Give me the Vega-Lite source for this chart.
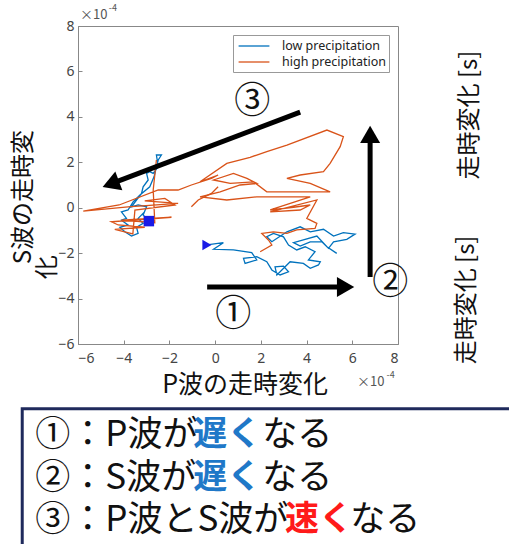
{
  "$schema": "https://vega.github.io/schema/vega-lite/v6.json",
  "width": 320,
  "height": 318,
  "autosize": {"type": "none"},
  "padding": {"left": 78, "top": 26, "right": 111, "bottom": 200},
  "background": "white",
  "config": {
    "view": {"stroke": "#888", "strokeWidth": 1},
    "font": "Noto Sans CJK JP",
    "axis": {"grid": false, "labelFontSize": 14, "labelColor": "#444", "domainColor": "#888", "tickColor": "#888", "labelFont": "Noto Sans", "title": null}
  },
  "datasets": {
    "traj": [
      {"series": "low precipitation", "seg": "b1", "ord": 1, "x": -0.36, "y": -1.64},
      {"series": "low precipitation", "seg": "b1", "ord": 2, "x": 0.36, "y": -1.54},
      {"series": "low precipitation", "seg": "b1", "ord": 3, "x": -0.07, "y": -1.83},
      {"series": "low precipitation", "seg": "b1", "ord": 4, "x": 0.8, "y": -1.86},
      {"series": "low precipitation", "seg": "b1", "ord": 5, "x": 1.6, "y": -1.98},
      {"series": "low precipitation", "seg": "b1", "ord": 6, "x": 1.82, "y": -2.3},
      {"series": "low precipitation", "seg": "b1", "ord": 7, "x": 1.31, "y": -2.45},
      {"series": "low precipitation", "seg": "b1", "ord": 8, "x": 1.24, "y": -2.23},
      {"series": "low precipitation", "seg": "b1", "ord": 9, "x": 1.82, "y": -2.16},
      {"series": "low precipitation", "seg": "b1", "ord": 10, "x": 2.26, "y": -2.38},
      {"series": "low precipitation", "seg": "b1", "ord": 11, "x": 2.48, "y": -2.74},
      {"series": "low precipitation", "seg": "b1", "ord": 12, "x": 2.84, "y": -2.96},
      {"series": "low precipitation", "seg": "b1", "ord": 13, "x": 3.21, "y": -2.82},
      {"series": "low precipitation", "seg": "b1", "ord": 14, "x": 2.99, "y": -2.57},
      {"series": "low precipitation", "seg": "b1", "ord": 15, "x": 2.62, "y": -2.6},
      {"series": "low precipitation", "seg": "b1", "ord": 16, "x": 2.7, "y": -2.96},
      {"series": "low precipitation", "seg": "b1", "ord": 17, "x": 3.28, "y": -2.38},
      {"series": "low precipitation", "seg": "b1", "ord": 18, "x": 3.86, "y": -2.45},
      {"series": "low precipitation", "seg": "b1", "ord": 19, "x": 4.16, "y": -2.67},
      {"series": "low precipitation", "seg": "b1", "ord": 20, "x": 4.52, "y": -2.52},
      {"series": "low precipitation", "seg": "b1", "ord": 21, "x": 4.6, "y": -2.38},
      {"series": "low precipitation", "seg": "b1", "ord": 22, "x": 4.08, "y": -2.3},
      {"series": "low precipitation", "seg": "b1", "ord": 23, "x": 4.37, "y": -1.94},
      {"series": "low precipitation", "seg": "b1", "ord": 24, "x": 3.94, "y": -1.72},
      {"series": "low precipitation", "seg": "b1", "ord": 25, "x": 3.57, "y": -1.86},
      {"series": "low precipitation", "seg": "b1", "ord": 26, "x": 3.21, "y": -1.64},
      {"series": "low precipitation", "seg": "b1", "ord": 27, "x": 2.99, "y": -1.28},
      {"series": "low precipitation", "seg": "b1", "ord": 28, "x": 2.55, "y": -1.13},
      {"series": "low precipitation", "seg": "b1", "ord": 29, "x": 2.26, "y": -1.28},
      {"series": "low precipitation", "seg": "b1", "ord": 30, "x": 2.48, "y": -1.5},
      {"series": "low precipitation", "seg": "b1", "ord": 31, "x": 3.14, "y": -1.06},
      {"series": "low precipitation", "seg": "b1", "ord": 32, "x": 3.72, "y": -0.84},
      {"series": "low precipitation", "seg": "b1", "ord": 33, "x": 4.16, "y": -1.06},
      {"series": "low precipitation", "seg": "b1", "ord": 34, "x": 4.74, "y": -0.95},
      {"series": "low precipitation", "seg": "b1", "ord": 35, "x": 5.18, "y": -1.25},
      {"series": "low precipitation", "seg": "b1", "ord": 36, "x": 5.61, "y": -1.1},
      {"series": "low precipitation", "seg": "b1", "ord": 37, "x": 6.12, "y": -1.16},
      {"series": "low precipitation", "seg": "b1", "ord": 38, "x": 5.76, "y": -1.39},
      {"series": "low precipitation", "seg": "b1", "ord": 39, "x": 5.18, "y": -1.5},
      {"series": "low precipitation", "seg": "b1", "ord": 40, "x": 4.96, "y": -1.79},
      {"series": "low precipitation", "seg": "b1", "ord": 41, "x": 4.67, "y": -1.5},
      {"series": "low precipitation", "seg": "b1", "ord": 42, "x": 4.16, "y": -1.5},
      {"series": "low precipitation", "seg": "b1", "ord": 43, "x": 3.72, "y": -1.69},
      {"series": "low precipitation", "seg": "b1", "ord": 44, "x": 3.43, "y": -1.54},
      {"series": "low precipitation", "seg": "b1", "ord": 45, "x": 3.86, "y": -1.42},
      {"series": "low precipitation", "seg": "b1", "ord": 46, "x": 4.45, "y": -1.25},
      {"series": "low precipitation", "seg": "b1", "ord": 47, "x": 4.89, "y": -1.72},
      {"series": "low precipitation", "seg": "b1", "ord": 48, "x": 5.32, "y": -2.01},
      {"series": "low precipitation", "seg": "b2", "ord": 1, "x": -2.9, "y": -0.59},
      {"series": "low precipitation", "seg": "b2", "ord": 2, "x": -3.15, "y": -0.32},
      {"series": "low precipitation", "seg": "b2", "ord": 3, "x": -3.0, "y": 0.04},
      {"series": "low precipitation", "seg": "b2", "ord": 4, "x": -3.37, "y": 0.12},
      {"series": "low precipitation", "seg": "b2", "ord": 5, "x": -3.66, "y": 0.04},
      {"series": "low precipitation", "seg": "b2", "ord": 6, "x": -3.44, "y": 0.34},
      {"series": "low precipitation", "seg": "b2", "ord": 7, "x": -3.22, "y": 0.63},
      {"series": "low precipitation", "seg": "b2", "ord": 8, "x": -3.15, "y": 0.92},
      {"series": "low precipitation", "seg": "b2", "ord": 9, "x": -2.93, "y": 1.22},
      {"series": "low precipitation", "seg": "b2", "ord": 10, "x": -3.0, "y": 1.51},
      {"series": "low precipitation", "seg": "b2", "ord": 11, "x": -2.86, "y": 1.59},
      {"series": "low precipitation", "seg": "b2", "ord": 12, "x": -2.71, "y": 1.51},
      {"series": "low precipitation", "seg": "b2", "ord": 13, "x": -2.49, "y": 1.81},
      {"series": "low precipitation", "seg": "b2", "ord": 14, "x": -2.57, "y": 2.32},
      {"series": "low precipitation", "seg": "b2", "ord": 15, "x": -2.35, "y": 2.32},
      {"series": "low precipitation", "seg": "b2", "ord": 16, "x": -2.49, "y": 2.1},
      {"series": "low precipitation", "seg": "b2", "ord": 17, "x": -2.67, "y": 1.37},
      {"series": "low precipitation", "seg": "b2", "ord": 18, "x": -2.86, "y": 0.92},
      {"series": "low precipitation", "seg": "b2", "ord": 19, "x": -3.29, "y": 0.56},
      {"series": "low precipitation", "seg": "b2", "ord": 20, "x": -3.59, "y": 0.26},
      {"series": "low precipitation", "seg": "b2", "ord": 21, "x": -3.81, "y": -0.1},
      {"series": "low precipitation", "seg": "b2", "ord": 22, "x": -4.1, "y": -0.18},
      {"series": "low precipitation", "seg": "b2", "ord": 23, "x": -3.88, "y": -0.47},
      {"series": "low precipitation", "seg": "b2", "ord": 24, "x": -4.1, "y": -0.55},
      {"series": "low precipitation", "seg": "b2", "ord": 25, "x": -3.81, "y": -0.76},
      {"series": "low precipitation", "seg": "b2", "ord": 26, "x": -4.17, "y": -0.86},
      {"series": "low precipitation", "seg": "b2", "ord": 27, "x": -3.95, "y": -1.06},
      {"series": "low precipitation", "seg": "b2", "ord": 28, "x": -3.66, "y": -1.25},
      {"series": "low precipitation", "seg": "b2", "ord": 29, "x": -3.37, "y": -1.13},
      {"series": "low precipitation", "seg": "b2", "ord": 30, "x": -3.44, "y": -0.86},
      {"series": "low precipitation", "seg": "b2", "ord": 31, "x": -3.15, "y": -0.69},
      {"series": "low precipitation", "seg": "b2", "ord": 32, "x": -3.37, "y": -0.47},
      {"series": "low precipitation", "seg": "b2", "ord": 33, "x": -3.08, "y": -0.18},
      {"series": "high precipitation", "seg": "o1", "ord": 1, "x": -2.57, "y": 2.1},
      {"series": "high precipitation", "seg": "o1", "ord": 2, "x": -2.71, "y": 0.78},
      {"series": "high precipitation", "seg": "o1", "ord": 3, "x": -2.64, "y": -0.66},
      {"series": "high precipitation", "seg": "o1", "ord": 4, "x": -4.1, "y": -0.55},
      {"series": "high precipitation", "seg": "o1", "ord": 5, "x": -1.91, "y": -0.42},
      {"series": "high precipitation", "seg": "o1", "ord": 6, "x": -4.54, "y": -0.62},
      {"series": "high precipitation", "seg": "o1", "ord": 7, "x": -4.24, "y": -0.76},
      {"series": "high precipitation", "seg": "o1", "ord": 8, "x": -3.08, "y": -0.86},
      {"series": "high precipitation", "seg": "o1", "ord": 9, "x": -4.39, "y": -0.95},
      {"series": "high precipitation", "seg": "o1", "ord": 10, "x": -3.6, "y": -1.15},
      {"series": "high precipitation", "seg": "o1", "ord": 11, "x": -3.51, "y": -0.1},
      {"series": "high precipitation", "seg": "o1", "ord": 12, "x": -1.76, "y": 0.12},
      {"series": "high precipitation", "seg": "o1", "ord": 13, "x": -2.2, "y": 0.41},
      {"series": "high precipitation", "seg": "o1", "ord": 14, "x": -3.08, "y": 0.3},
      {"series": "high precipitation", "seg": "o1", "ord": 15, "x": -1.62, "y": 0.19},
      {"series": "high precipitation", "seg": "o1", "ord": 16, "x": -3.81, "y": 0.04},
      {"series": "high precipitation", "seg": "o1", "ord": 17, "x": -5.77, "y": -0.15},
      {"series": "high precipitation", "seg": "o1", "ord": 18, "x": -4.2, "y": 0.12},
      {"series": "high precipitation", "seg": "o1", "ord": 19, "x": -2.49, "y": 0.78},
      {"series": "high precipitation", "seg": "o1", "ord": 20, "x": -1.62, "y": 0.78},
      {"series": "high precipitation", "seg": "o1", "ord": 21, "x": -1.04, "y": 1.0},
      {"series": "high precipitation", "seg": "o1", "ord": 22, "x": -0.16, "y": 1.29},
      {"series": "high precipitation", "seg": "o1", "ord": 23, "x": 0.13, "y": 1.44},
      {"series": "high precipitation", "seg": "o1", "ord": 24, "x": -0.66, "y": 1.14},
      {"series": "high precipitation", "seg": "o1", "ord": 25, "x": 0.51, "y": 1.95},
      {"series": "high precipitation", "seg": "o1", "ord": 26, "x": 1.53, "y": 2.22},
      {"series": "high precipitation", "seg": "o1", "ord": 27, "x": 1.82, "y": 2.32},
      {"series": "high precipitation", "seg": "o1", "ord": 28, "x": 2.26, "y": 2.47},
      {"series": "high precipitation", "seg": "o1", "ord": 29, "x": 3.14, "y": 2.76},
      {"series": "high precipitation", "seg": "o1", "ord": 30, "x": 4.89, "y": 3.42},
      {"series": "high precipitation", "seg": "o1", "ord": 31, "x": 5.61, "y": 3.13},
      {"series": "high precipitation", "seg": "o1", "ord": 32, "x": 5.47, "y": 2.69},
      {"series": "high precipitation", "seg": "o1", "ord": 33, "x": 5.03, "y": 1.95},
      {"series": "high precipitation", "seg": "o1", "ord": 34, "x": 4.74, "y": 1.59},
      {"series": "high precipitation", "seg": "o1", "ord": 35, "x": 3.72, "y": 1.44},
      {"series": "high precipitation", "seg": "o1", "ord": 36, "x": 3.14, "y": 1.29},
      {"series": "high precipitation", "seg": "o1", "ord": 37, "x": 4.16, "y": 1.07},
      {"series": "high precipitation", "seg": "o1", "ord": 38, "x": 5.03, "y": 0.7},
      {"series": "high precipitation", "seg": "o1", "ord": 39, "x": 4.3, "y": 0.7},
      {"series": "high precipitation", "seg": "o1", "ord": 40, "x": 2.26, "y": 0.7},
      {"series": "high precipitation", "seg": "o1", "ord": 41, "x": 1.68, "y": 1.14},
      {"series": "high precipitation", "seg": "o1", "ord": 42, "x": 0.66, "y": 1.07},
      {"series": "high precipitation", "seg": "o1", "ord": 43, "x": -0.07, "y": 1.22},
      {"series": "high precipitation", "seg": "o1", "ord": 44, "x": 0.8, "y": 1.51},
      {"series": "high precipitation", "seg": "o1", "ord": 45, "x": 1.39, "y": 1.29},
      {"series": "high precipitation", "seg": "o1", "ord": 46, "x": 1.82, "y": 1.07},
      {"series": "high precipitation", "seg": "o1", "ord": 47, "x": 1.09, "y": 1.0},
      {"series": "high precipitation", "seg": "o1", "ord": 48, "x": 0.22, "y": 0.7},
      {"series": "high precipitation", "seg": "o1", "ord": 49, "x": -0.66, "y": 0.48},
      {"series": "high precipitation", "seg": "o1", "ord": 50, "x": 0.51, "y": 0.34},
      {"series": "high precipitation", "seg": "o1", "ord": 51, "x": 1.82, "y": 0.48},
      {"series": "high precipitation", "seg": "o1", "ord": 52, "x": 4.16, "y": 0.48},
      {"series": "high precipitation", "seg": "o1", "ord": 53, "x": 2.41, "y": -0.1},
      {"series": "high precipitation", "seg": "o1", "ord": 54, "x": 3.43, "y": 0.02},
      {"series": "high precipitation", "seg": "o1", "ord": 55, "x": 4.16, "y": 0.12},
      {"series": "high precipitation", "seg": "o1", "ord": 56, "x": 3.72, "y": -0.1},
      {"series": "high precipitation", "seg": "o1", "ord": 57, "x": 2.41, "y": -0.18},
      {"series": "high precipitation", "seg": "o1", "ord": 58, "x": 4.45, "y": 0.34},
      {"series": "high precipitation", "seg": "o1", "ord": 59, "x": 4.01, "y": -0.47},
      {"series": "high precipitation", "seg": "o1", "ord": 60, "x": 4.45, "y": -0.69},
      {"series": "high precipitation", "seg": "o1", "ord": 61, "x": 4.37, "y": -0.91},
      {"series": "high precipitation", "seg": "o1", "ord": 62, "x": 3.57, "y": -0.98},
      {"series": "high precipitation", "seg": "o1", "ord": 63, "x": 3.14, "y": -1.13},
      {"series": "high precipitation", "seg": "o1", "ord": 64, "x": 2.55, "y": -1.06},
      {"series": "high precipitation", "seg": "o1", "ord": 65, "x": 2.04, "y": -1.13},
      {"series": "high precipitation", "seg": "o1", "ord": 66, "x": 2.33, "y": -1.42},
      {"series": "high precipitation", "seg": "o1", "ord": 67, "x": 2.48, "y": -1.64},
      {"series": "high precipitation", "seg": "o1", "ord": 68, "x": 1.97, "y": -1.94},
      {"series": "high precipitation", "seg": "o2", "ord": 1, "x": -1.04, "y": 0.04},
      {"series": "high precipitation", "seg": "o2", "ord": 2, "x": -0.74, "y": 0.34},
      {"series": "high precipitation", "seg": "o2", "ord": 3, "x": -0.16, "y": 0.63},
      {"series": "high precipitation", "seg": "o2", "ord": 4, "x": 0.13, "y": 0.92}
    ],
    "arrows": [
      {"x": 3.72, "y": 4.21, "x2": -4.48, "y2": 1.08, "hx": -4.45, "hy": 1.09, "ang": 249.5},
      {"x": -0.35, "y": -3.49, "x2": 5.56, "y2": -3.49, "hx": 5.58, "hy": -3.49, "ang": 90},
      {"x": 6.78, "y": -3.05, "x2": 6.78, "y2": 3.07, "hx": 6.78, "hy": 3.1, "ang": 0}
    ],
    "leftText": [
      {"t": "①：P波が", "x": -7.87, "y": -10.01, "s": 35, "c": "#111111"},
      {"t": "なる", "x": 2.06, "y": -10.01, "s": 35, "c": "#111111"},
      {"t": "②：S波が", "x": -7.87, "y": -11.9, "s": 35, "c": "#111111"},
      {"t": "なる", "x": 2.06, "y": -11.9, "s": 35, "c": "#111111"},
      {"t": "③：P波とS波が", "x": -7.87, "y": -13.75, "s": 35, "c": "#111111"},
      {"t": "なる", "x": 5.91, "y": -13.75, "s": 35, "c": "#111111"},
      {"t": "×10", "x": -5.91, "y": 8.5, "s": 13, "c": "#555555"},
      {"t": "-4", "x": -4.65, "y": 8.8, "s": 9, "c": "#555555"},
      {"t": "×10", "x": 6.21, "y": -7.67, "s": 13, "c": "#555555"},
      {"t": "-4", "x": 7.5, "y": -7.35, "s": 9, "c": "#555555"}
    ],
    "boldText": [
      {"t": "遅く", "x": -0.96, "y": -10.01, "c": "#1f78c8"},
      {"t": "遅く", "x": -0.96, "y": -11.9, "c": "#1f78c8"},
      {"t": "速く", "x": 3.06, "y": -13.75, "c": "#ff1a1a"}
    ],
    "centerText": [
      {"t": "③", "x": 1.62, "y": 4.65, "s": 36, "a": 0},
      {"t": "②", "x": 7.66, "y": -3.32, "s": 36, "a": 0},
      {"t": "①", "x": 0.79, "y": -4.73, "s": 36, "a": 0},
      {"t": "P波の走時変化", "x": 1.31, "y": -7.8, "s": 25, "a": 0},
      {"t": "S波の走時変", "x": -8.36, "y": 0.47, "s": 24, "a": 270},
      {"t": "化", "x": -7.31, "y": -2.62, "s": 24, "a": 270},
      {"t": "走時変化 [s]", "x": 11.15, "y": 4.08, "s": 24, "a": 270},
      {"t": "走時変化 [s]", "x": 11.02, "y": -4.06, "s": 24, "a": 270}
    ],
    "box": [{"x": -8.44, "x2": 14, "y": -8.85, "y2": -16}],
    "markers": [
      {"x": -0.36, "y": -1.64, "shape": "triangle-right"},
      {"x": -2.9, "y": -0.59, "shape": "square"}
    ]
  },
  "layer": [
    {
      "data": {"name": "traj"},
      "mark": {"type": "line", "strokeWidth": 1.3},
      "encoding": {
        "x": {"field": "x", "type": "quantitative", "scale": {"domain": [-6, 8], "nice": false, "zero": false}, "axis": {"values": [-6, -4, -2, 0, 2, 4, 6, 8], "tickSize": -4, "labelPadding": 11}},
        "y": {"field": "y", "type": "quantitative", "scale": {"domain": [-6, 8], "nice": false, "zero": false}, "axis": {"values": [-6, -4, -2, 0, 2, 4, 6, 8], "tickSize": -4, "labelPadding": 8}},
        "color": {"field": "series", "type": "nominal", "scale": {"domain": ["low precipitation", "high precipitation"], "range": ["#0072BD", "#D95319"]},
          "legend": {"orient": "none", "legendX": 155, "legendY": 9, "title": null, "symbolType": "M-2.2,0H2.2", "symbolSize": 196, "symbolOffset": 10, "symbolStrokeWidth": 1.3, "labelFontSize": 12.5, "labelFont": "Noto Sans", "labelColor": "#222", "labelOffset": 20, "strokeColor": "#999", "fillColor": "white", "padding": 3, "rowPadding": 1}},
        "detail": {"field": "seg"},
        "order": {"field": "ord", "type": "quantitative"}
      }
    },
    {
      "data": {"name": "markers"},
      "mark": {"type": "point", "filled": true, "color": "#1a1ae6", "size": 110, "opacity": 1},
      "encoding": {
        "x": {"field": "x", "type": "quantitative"},
        "y": {"field": "y", "type": "quantitative"},
        "shape": {"field": "shape", "type": "nominal", "scale": null}
      }
    },
    {
      "data": {"name": "arrows"},
      "mark": {"type": "rule", "strokeWidth": 5, "color": "black"},
      "encoding": {
        "x": {"field": "x", "type": "quantitative"},
        "y": {"field": "y", "type": "quantitative"},
        "x2": {"field": "x2"},
        "y2": {"field": "y2"}
      }
    },
    {
      "data": {"name": "arrows"},
      "mark": {"type": "point", "shape": "triangle", "filled": true, "color": "black", "size": 400, "opacity": 1},
      "encoding": {
        "x": {"field": "hx", "type": "quantitative"},
        "y": {"field": "hy", "type": "quantitative"},
        "angle": {"field": "ang", "type": "quantitative", "scale": null}
      }
    },
    {
      "data": {"name": "box"},
      "mark": {"type": "rect", "fill": "white", "fillOpacity": 0, "stroke": "#1f2a5c", "strokeWidth": 3},
      "encoding": {
        "x": {"field": "x", "type": "quantitative"},
        "x2": {"field": "x2"},
        "y": {"field": "y", "type": "quantitative"},
        "y2": {"field": "y2"}
      }
    },
    {
      "data": {"name": "leftText"},
      "mark": {"type": "text", "align": "left", "baseline": "middle", "font": "Noto Sans CJK JP"},
      "encoding": {
        "x": {"field": "x", "type": "quantitative"},
        "y": {"field": "y", "type": "quantitative"},
        "text": {"field": "t"},
        "size": {"field": "s", "type": "quantitative", "scale": null},
        "fill": {"field": "c", "type": "nominal", "scale": null}
      }
    },
    {
      "data": {"name": "boldText"},
      "mark": {"type": "text", "align": "left", "baseline": "middle", "font": "Noto Sans CJK JP", "fontWeight": "bold", "fontSize": 34},
      "encoding": {
        "x": {"field": "x", "type": "quantitative"},
        "y": {"field": "y", "type": "quantitative"},
        "text": {"field": "t"},
        "fill": {"field": "c", "type": "nominal", "scale": null}
      }
    },
    {
      "data": {"name": "centerText"},
      "mark": {"type": "text", "align": "center", "baseline": "middle", "font": "Noto Sans CJK JP", "color": "#111111"},
      "encoding": {
        "x": {"field": "x", "type": "quantitative"},
        "y": {"field": "y", "type": "quantitative"},
        "text": {"field": "t"},
        "size": {"field": "s", "type": "quantitative", "scale": null},
        "angle": {"field": "a", "type": "quantitative", "scale": null}
      }
    }
  ]
}
